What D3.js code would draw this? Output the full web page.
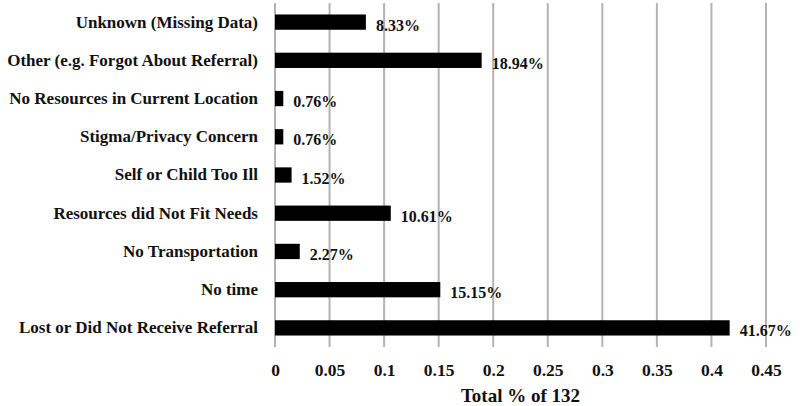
<!DOCTYPE html>
<html>
<head>
<meta charset="utf-8">
<script src="https://cdn.jsdelivr.net/npm/d3@7"></script>
<style>
  body { margin: 0; background: #fff; }
  svg text { font-family: "Times New Roman", "Liberation Serif", serif; font-weight: bold; fill: #111; }
</style>
</head>
<body>
<svg id="chart" width="800" height="406"></svg>
<script>
  // categories top to bottom
  const categories = [
    'Unknown (Missing Data)',
    'Other (e.g. Forgot About Referral)',
    'No Resources in Current Location',
    'Stigma/Privacy Concern',
    'Self or Child Too Ill',
    'Resources did Not Fit Needs',
    'No Transportation',
    'No time',
    'Lost or Did Not Receive Referral'
  ];
  const values = [0.0833, 0.1894, 0.0076, 0.0076, 0.0152, 0.1061, 0.0227, 0.1515, 0.4167];
  const valueLabels = ['8.33%', '18.94%', '0.76%', '0.76%', '1.52%', '10.61%', '2.27%', '15.15%', '41.67%'];
  const xTicks = [0, 0.05, 0.1, 0.15, 0.2, 0.25, 0.3, 0.35, 0.4, 0.45];
  const xTitle = 'Total % of 132';

  const margin = { top: 3, right: 34, bottom: 59, left: 275 };
  const width = 800, height = 406;
  const innerWidth = width - margin.left - margin.right;
  const innerHeight = height - margin.top - margin.bottom;

  const svg = d3.select('#chart');
  const g = svg.append('g')
    .attr('transform', `translate(${margin.left},${margin.top})`);

  const xScale = d3.scaleLinear()
    .domain([0, 0.45])
    .range([0, innerWidth]);

  const yScale = d3.scaleBand()
    .domain(categories)
    .range([0, innerHeight])
    .paddingInner(0.6)
    .paddingOuter(0.3);

  // vertical gridlines
  g.selectAll('.grid').data(xTicks)
    .enter().append('line')
      .attr('class', 'grid')
      .attr('x1', d => xScale(d))
      .attr('x2', d => xScale(d))
      .attr('y1', 0)
      .attr('y2', innerHeight)
      .attr('stroke', '#b3b3b3')
      .attr('stroke-width', 2);

  // x axis
  const xAxis = d3.axisBottom(xScale)
    .tickValues(xTicks)
    .tickFormat(d => String(d))
    .tickSize(0)
    .tickPadding(17);

  const xAxisG = g.append('g')
    .attr('transform', `translate(0,${innerHeight})`)
    .call(xAxis);
  xAxisG.select('.domain').remove();
  xAxisG.selectAll('text')
    .attr('font-size', 17.5);

  g.append('text')
    .attr('x', innerWidth / 2)
    .attr('y', innerHeight + 55)
    .attr('text-anchor', 'middle')
    .attr('font-size', 19)
    .text(xTitle);

  // y axis labels
  const yAxis = d3.axisLeft(yScale)
    .tickSize(0)
    .tickPadding(17);
  const yAxisG = g.append('g').call(yAxis);
  yAxisG.select('.domain').remove();
  yAxisG.selectAll('text')
    .attr('font-size', 17);

  // bars
  g.selectAll('.bar').data(values)
    .enter().append('rect')
      .attr('class', 'bar')
      .attr('x', 0)
      .attr('y', (d, i) => yScale(categories[i]))
      .attr('width', d => xScale(d))
      .attr('height', yScale.bandwidth())
      .attr('fill', '#000');

  // value labels
  g.selectAll('.val').data(values)
    .enter().append('text')
      .attr('class', 'val')
      .attr('x', d => xScale(d) + 10)
      .attr('y', (d, i) => yScale(categories[i]) + yScale.bandwidth() / 2 + 3)
      .attr('dy', '0.35em')
      .attr('font-size', 16)
      .text((d, i) => valueLabels[i]);
</script>
</body>
</html>
